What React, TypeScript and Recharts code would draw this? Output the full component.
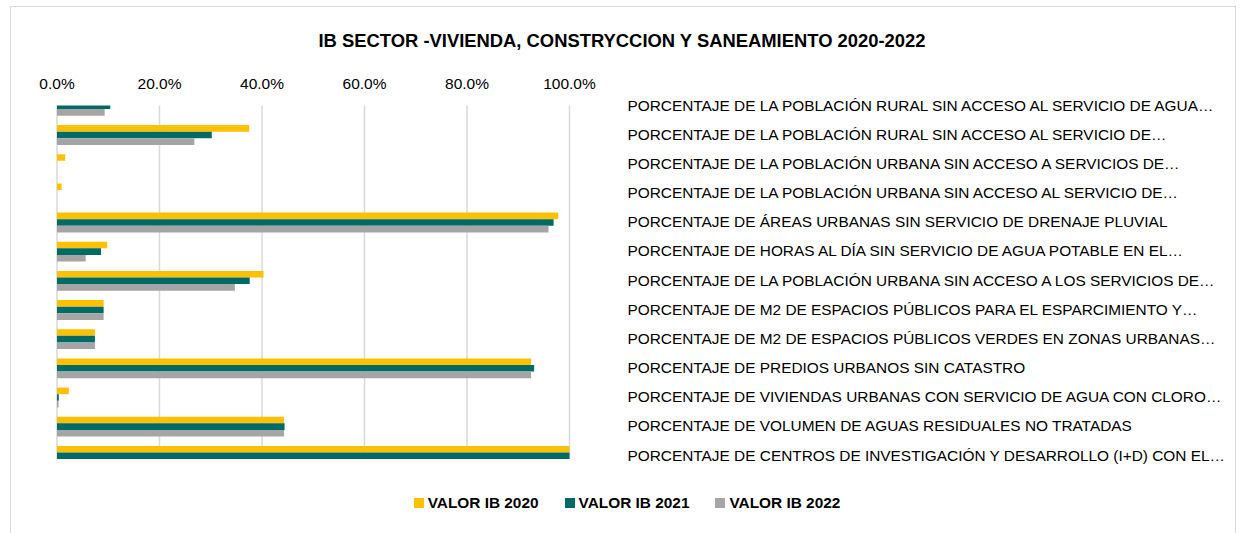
import { Bar, BarChart, CartesianGrid, XAxis, YAxis } from 'recharts'

const categories = [
  'PORCENTAJE DE LA POBLACIÓN RURAL SIN ACCESO AL SERVICIO DE AGUA…',
  'PORCENTAJE DE LA POBLACIÓN RURAL SIN ACCESO AL SERVICIO DE…',
  'PORCENTAJE DE LA POBLACIÓN URBANA SIN ACCESO A SERVICIOS DE…',
  'PORCENTAJE DE LA POBLACIÓN URBANA SIN ACCESO AL SERVICIO DE…',
  'PORCENTAJE DE ÁREAS URBANAS SIN SERVICIO DE DRENAJE PLUVIAL',
  'PORCENTAJE DE HORAS AL DÍA SIN SERVICIO DE AGUA POTABLE EN EL…',
  'PORCENTAJE DE LA POBLACIÓN URBANA SIN ACCESO A LOS SERVICIOS DE…',
  'PORCENTAJE DE M2 DE ESPACIOS PÚBLICOS PARA EL ESPARCIMIENTO Y…',
  'PORCENTAJE DE M2 DE ESPACIOS PÚBLICOS VERDES EN ZONAS URBANAS…',
  'PORCENTAJE DE PREDIOS URBANOS SIN CATASTRO',
  'PORCENTAJE DE VIVIENDAS URBANAS CON SERVICIO DE AGUA CON CLORO…',
  'PORCENTAJE DE VOLUMEN DE AGUAS RESIDUALES NO TRATADAS',
  'PORCENTAJE DE CENTROS DE INVESTIGACIÓN Y DESARROLLO (I+D) CON EL…',
]

// row positions on the category axis (0 = top row)
const positions = [0, 1, 2, 3, 4, 5, 6, 7, 8, 9, 10, 11, 12]

const valor2020 = [0.11, 0.375, 0.016, 0.009, 0.978, 0.098, 0.403, 0.091, 0.074, 0.925, 0.023, 0.443, 1.0]
const valor2021 = [0.104, 0.302, 0, 0, 0.969, 0.086, 0.376, 0.091, 0.074, 0.931, 0.0035, 0.444, 1.0]
const valor2022 = [0.093, 0.268, 0, 0, 0.959, 0.056, 0.347, 0.091, 0.074, 0.925, 0.003, 0.443, 1.0]

const xTicks = [0, 0.2, 0.4, 0.6, 0.8, 1]

const SERIES = [
  { key: 'v2020', name: 'VALOR IB 2020', color: '#FFC000' },
  { key: 'v2021', name: 'VALOR IB 2021', color: '#006B66' },
  { key: 'v2022', name: 'VALOR IB 2022', color: '#A5A5A5' },
]

const FONT = "'Liberation Sans', Arial, sans-serif"

const data = positions.map((p, i) => ({
  pos: p,
  v2020: valor2020[i],
  v2021: valor2021[i],
  v2022: valor2022[i],
}))

function CategoryTick({ x, y, payload }: any) {
  return (
    <text x={x} y={y} dy={5} fill="#000" fontSize={15.4} fontFamily={FONT} textAnchor="start">
      {categories[payload.value]}
    </text>
  )
}

export default function App() {
  return (
    <div
      style={{
        position: 'fixed',
        left: 0,
        top: 0,
        width: 1242,
        height: 533,
        background: '#fff',
        overflow: 'hidden',
      }}
    >
      <div
        style={{
          position: 'absolute',
          left: 10,
          top: 6,
          width: 1226,
          height: 540,
          border: '1px solid #d9d9d9',
          boxSizing: 'border-box',
        }}
      />
      <div
        style={{
          position: 'absolute',
          left: 0,
          top: 30,
          width: 1244,
          textAlign: 'center',
          fontFamily: FONT,
          fontWeight: 'bold',
          fontSize: 18.4,
          color: '#000',
        }}
      >
        IB SECTOR -VIVIENDA, CONSTRYCCION Y SANEAMIENTO 2020-2022
      </div>
      <div style={{ position: 'absolute', left: 0, top: 0 }}>
        <BarChart
          width={1242}
          height={533}
          data={data}
          layout="vertical"
          barGap={0}
          margin={{ top: 75.5, right: 12.5, bottom: 74, left: 57 }}
        >
          <CartesianGrid horizontal={false} stroke="#d9d9d9" strokeWidth={1.5} />
          <XAxis
            type="number"
            orientation="top"
            domain={[0, 1]}
            ticks={xTicks}
            height={30}
            axisLine={false}
            tickLine={false}
            tickSize={0}
            tickMargin={17}
            tickFormatter={(v: number) => `${(v * 100).toFixed(1)}%`}
            tick={{ fontSize: 15.5, fill: '#000', fontFamily: FONT }}
          />
          <YAxis
            type="number"
            dataKey="pos"
            orientation="right"
            domain={[0, 12.12]}
            allowDataOverflow
            ticks={positions}
            width={660}
            axisLine={false}
            tickLine={false}
            tickSize={0}
            tickMargin={58}
            tick={<CategoryTick />}
          />
          {SERIES.map((s) => (
            <Bar
              key={s.key}
              dataKey={s.key}
              name={s.name}
              fill={s.color}
              barSize={6.6}
              isAnimationActive={false}
            />
          ))}
        </BarChart>
      </div>
      <div
        style={{
          position: 'absolute',
          left: 6,
          top: 494,
          width: 1242,
          display: 'flex',
          justifyContent: 'center',
          gap: 26,
          fontFamily: FONT,
          fontWeight: 'bold',
          fontSize: 15.4,
          color: '#000',
        }}
      >
        {SERIES.map((s) => (
          <div key={s.key} style={{ display: 'flex', alignItems: 'center', gap: 4 }}>
            <span style={{ width: 10, height: 10, background: s.color, display: 'inline-block' }} />
            <span>{s.name}</span>
          </div>
        ))}
      </div>
    </div>
  )
}
